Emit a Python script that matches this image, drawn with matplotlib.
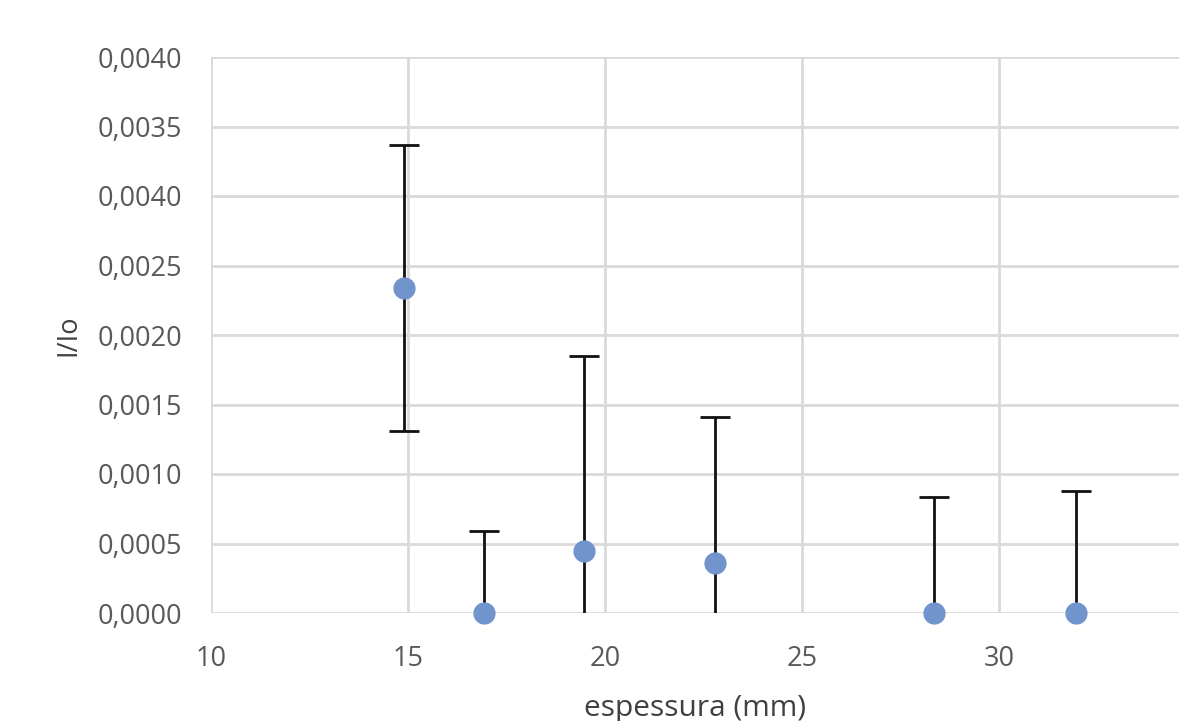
import matplotlib
matplotlib.use("Agg")
import matplotlib.pyplot as plt

# Data
espessura = [14.9, 16.93, 19.47, 22.79, 28.35, 31.95]
i_io = [0.00234, 0.0, 0.000446, 0.00036, 0.0, 0.0]
erro = [0.00103, 0.00059, 0.00140, 0.00105, 0.000835, 0.00088]

y_ticks = [0.0, 0.0005, 0.0010, 0.0015, 0.0020, 0.0025, 0.0030, 0.0035, 0.0040]
y_tick_labels = ["0,0000", "0,0005", "0,0010", "0,0015", "0,0020", "0,0025",
                 "0,0040", "0,0035", "0,0040"]
x_ticks = [10, 15, 20, 25, 30]
x_tick_labels = ["10", "15", "20", "25", "30"]

plt.rcParams['font.family'] = ['Open Sans', 'DejaVu Sans']

fig = plt.figure(figsize=(11.79, 7.21), dpi=100)
ax = fig.add_axes([211/1179, 108/721, 1 - 211/1179, (613-57)/721])

ax.errorbar(espessura, i_io, yerr=erro, fmt='none', ecolor='#111111',
            elinewidth=2, capsize=11, capthick=2, zorder=3)
ax.plot(espessura, i_io, 'o', color='#7094CB', markersize=15, zorder=4,
        clip_on=False)

ax.set_xlim(10, 34.57)
ax.set_ylim(0, 0.004)
ax.set_xticks(x_ticks)
ax.set_xticklabels(x_tick_labels)
ax.set_yticks(y_ticks)
ax.set_yticklabels(y_tick_labels)

ax.grid(True, color='#d9d9d9', linewidth=2)
ax.set_axisbelow(True)
for s in ax.spines.values():
    s.set_visible(False)
ax.tick_params(length=0, labelsize=19.5, labelcolor='#595959')
ax.tick_params(axis='x', pad=23)
ax.tick_params(axis='y', pad=21)

ax.set_xlabel("espessura (mm)", fontsize=21.5, color='#404040', labelpad=15)
ax.set_ylabel("I/Io", fontsize=19.5, color='#404040', labelpad=11)

fig.savefig("out.png", dpi=100)
